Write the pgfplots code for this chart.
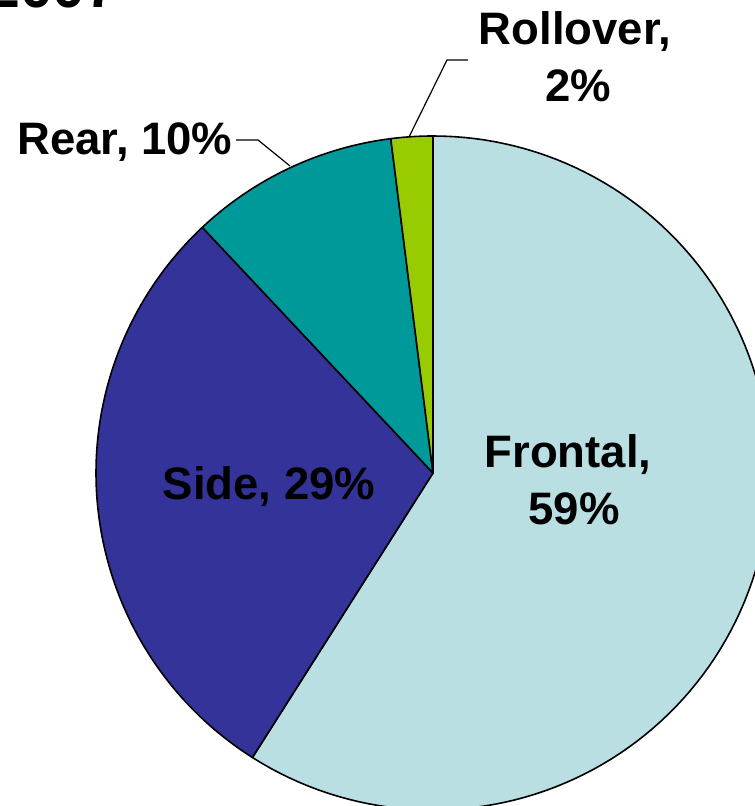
\documentclass[border=0pt]{standalone}
\usepackage{pgfplots}
\pgfplotsset{compat=1.18}
\usepackage{fontspec}
\setmainfont{Liberation Sans}

\definecolor{frontal}{HTML}{B9DFE3}
\definecolor{side}{HTML}{333399}
\definecolor{rear}{HTML}{009999}
\definecolor{rollover}{HTML}{99CC00}

% one wedge: #1 = share already used (%), #2 = share of this wedge (%), #3 = colour
% wedges start at 12 o'clock and run clockwise
\newcommand{\pieslice}[3]{%
  \addplot[fill=#3, draw=black, line width=1.6pt, line join=round,
    domain=90-3.6*(#1+#2):90-3.6*(#1), samples=120, variable=\t]
    ({433+337*cos(t)}, {333+337*sin(t)}) -- (axis cs:433,333) -- cycle;
}

\begin{document}
\begin{tikzpicture}
\begin{axis}[
  at={(0,0)}, anchor=south west,
  hide axis, scale only axis,
  width=755pt, height=806pt,
  xmin=0, xmax=755, ymin=0, ymax=806,
  clip=true,
]
\pieslice{0}{59}{frontal}
\pieslice{59}{29}{side}
\pieslice{88}{10}{rear}
\pieslice{98}{2}{rollover}

% leader lines
\addplot[black, line width=1.2pt] coordinates {(236,666) (258,666) (290,640)};
\addplot[black, line width=1.2pt] coordinates {(468,746) (447,746) (409,669)};

\begin{scope}[every node/.style={inner sep=0pt, font=\bfseries\fontsize{45.5}{57}\selectfont}]
\node[anchor=base] at (axis cs:269,306) {Side, 29\%};
\node[anchor=base] at (axis cs:568,338) {Frontal,};
\node[anchor=base] at (axis cs:574,281) {59\%};
\node[anchor=base] at (axis cs:575,761) {Rollover,};
\node[anchor=base] at (axis cs:578,704) {2\%};
\node[anchor=base] at (axis cs:125,651) {Rear, 10\%};
\end{scope}
% year of the title, running off the top edge
\node[anchor=base west, inner sep=0pt, font=\bfseries\fontsize{59}{70}\selectfont] at (axis cs:-13,798) {2007};
\end{axis}
\pgfresetboundingbox
\path (0,0) rectangle (755pt,806pt);
\end{tikzpicture}
\end{document}
